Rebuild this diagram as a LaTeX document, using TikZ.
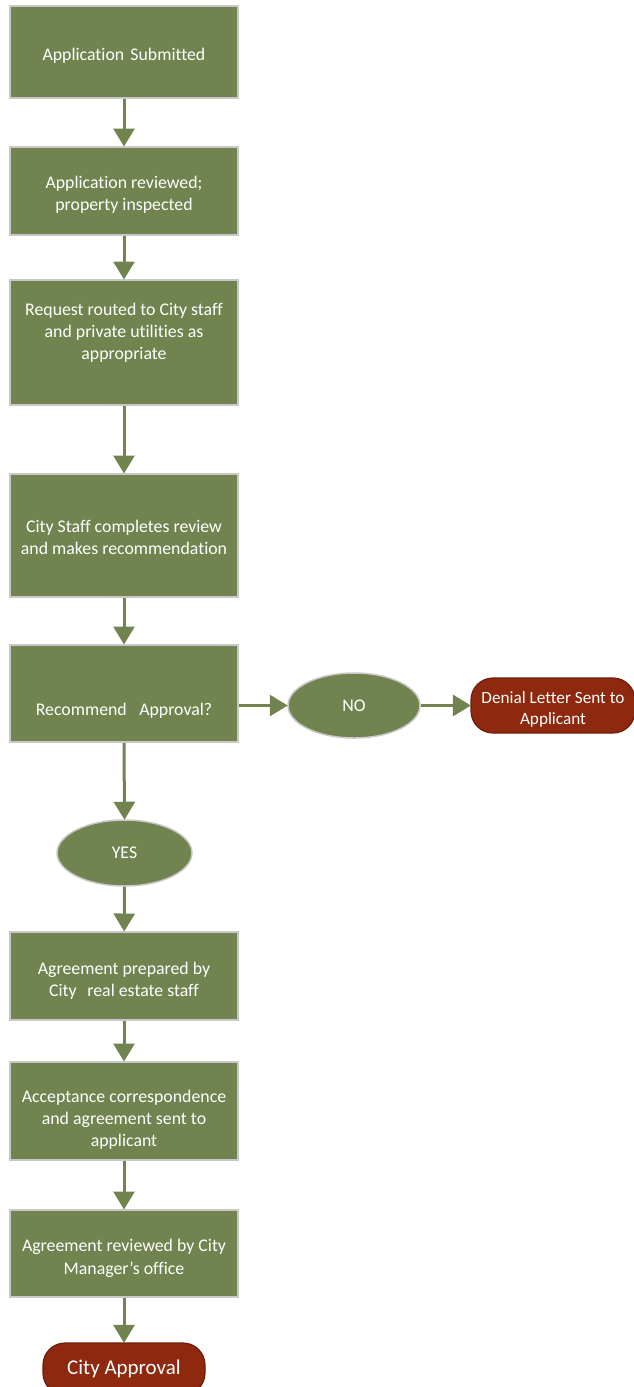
\documentclass[tikz,border=0pt]{standalone}
\usepackage{fontspec}
\setmainfont{Carlito}[Ligatures=NoCommon]
\usetikzlibrary{arrows.meta,shapes.geometric}
\definecolor{leaf}{RGB}{113,132,79}
\definecolor{rim}{RGB}{200,200,200}
\definecolor{brick}{RGB}{142,41,15}
\definecolor{brickrim}{RGB}{110,30,10}
% struts that push a block of text up (low) or down (high) inside its box
\newcommand{\lowpad}[1]{\rule[-#1]{0pt}{#1}}
\newcommand{\highpad}[1]{\rule{0pt}{#1}}
\tikzset{
  stepbox/.style={draw=rim, line width=2pt, fill=leaf, text=white,
    minimum width=228pt, inner sep=0pt, align=center,
    font=\fontsize{17.8pt}{22.3pt}\selectfont},
  choice/.style={ellipse, draw=rim, line width=1.5pt, fill=leaf, text=white,
    inner sep=0pt, font=\fontsize{17.8pt}{22pt}\selectfont},
  terminal/.style={rounded corners=22pt, draw=brickrim, line width=1.2pt,
    fill=brick, text=white, inner sep=0pt, align=center},
  flow/.style={draw=leaf, line width=3pt,
    -{Triangle[length=18pt,width=21pt]}, shorten >=-0.5pt}
}
\begin{document}
\begin{tikzpicture}[x=1pt,y=-1pt]
\useasboundingbox (0,0) rectangle (634,1387);
\begin{scope}
\clip (0,0) rectangle (634,1387);
\node[stepbox, minimum height=92pt] (s1) at (124,51.5) {\highpad{20pt}Application\hspace{0.35em}Submitted};
\node[stepbox, minimum height=88pt] (s2) at (124,191) {\highpad{20pt}Application reviewed;\\ property inspected};
\node[stepbox, minimum height=125pt] (s3) at (124,342.5) {Request routed to City staff\\ and private utilities as\\ appropriate\lowpad{22pt}};
\node[stepbox, minimum height=123pt] (s4) at (124,535.5) {\highpad{16pt}City Staff completes review\\ and makes recommendation};
\node[stepbox, minimum height=97pt] (s5) at (124,693.5) {\highpad{46pt}Recommend\hspace{0.7em}Approval?};
\node[choice, minimum width=132pt, minimum height=65pt] (no) at (354,705.5) {NO};
\node[terminal, minimum width=164pt, minimum height=55pt,
  font=\fontsize{17.2pt}{21pt}\selectfont] (deny) at (553,705.5) {\highpad{19pt}Denial Letter Sent to\\ Applicant};
\node[choice, minimum width=135pt, minimum height=66pt] (yes) at (124.5,853) {YES};
\node[stepbox, minimum height=88pt] (s6) at (124,976) {\highpad{22pt}Agreement prepared by\\ City\hspace{0.6em}real estate staff};
\node[stepbox, minimum height=98pt] (s7) at (124,1111) {\highpad{30pt}Acceptance correspondence\\ and agreement sent to\\ applicant};
\node[stepbox, minimum height=87pt] (s8) at (124,1253.5) {\highpad{22pt}Agreement reviewed by City\\ Manager’s office};
\node[terminal, minimum width=162pt, minimum height=52pt,
  font=\fontsize{21pt}{24pt}\selectfont] (done) at (124,1369) {City Approval};

\draw[flow] (s1) -- (s2);
\draw[flow] (s2) -- (s3);
\draw[flow] (s3) -- (s4);
\draw[flow] (s4) -- (s5);
\draw[flow] (s5.south) -- (yes.north);
\draw[flow] (yes) -- (s6);
\draw[flow] (s6) -- (s7);
\draw[flow] (s7) -- (s8);
\draw[flow] (s8) -- (done);
\draw[flow] (s5.east |- no.west) -- (no.west);
\draw[flow] (no.east) -- (deny.west);
\end{scope}
\end{tikzpicture}
\end{document}
